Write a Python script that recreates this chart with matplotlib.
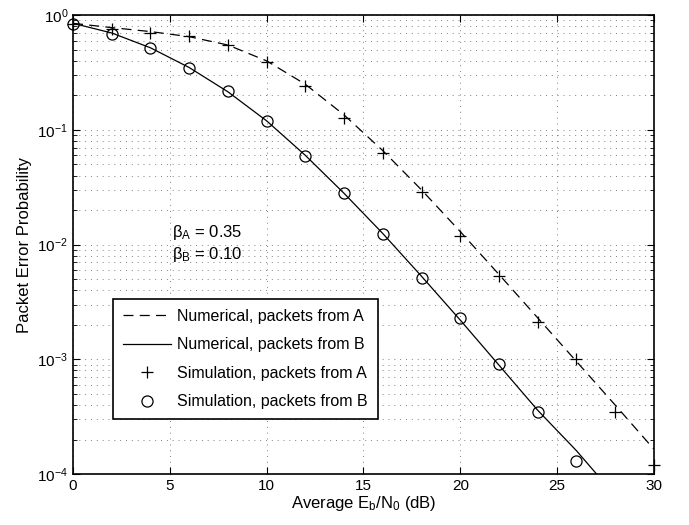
import matplotlib
matplotlib.use("Agg")
import matplotlib.pyplot as plt
import numpy as np

plt.rcParams['font.family'] = ['Liberation Sans', 'DejaVu Sans']
plt.rcParams['mathtext.fontset'] = 'custom'
plt.rcParams['mathtext.rm'] = 'Liberation Sans'
plt.rcParams['mathtext.it'] = 'Liberation Sans'

snr_num = [0, 2, 4, 6, 8, 10, 12, 14, 16, 18, 20, 22, 24, 26, 28, 30]
num_A = [0.85, 0.78, 0.72, 0.65, 0.55, 0.40, 0.25, 0.135, 0.066, 0.030, 0.013,
         0.0055, 0.0023, 0.00096, 0.0004, 0.000165]
num_B = [0.85, 0.70, 0.52, 0.35, 0.215, 0.12, 0.060, 0.028, 0.0125, 0.0053,
         0.0022, 0.00089, 0.00036, 0.00016, 0.000065, 0.000026]

snr_simA = [0, 2, 4, 6, 8, 10, 12, 14, 16, 18, 20, 22, 24, 26, 28, 30]
sim_A = [0.835, 0.755, 0.70, 0.656, 0.548, 0.39, 0.24, 0.126, 0.063, 0.029,
         0.012, 0.0053, 0.0021, 0.001, 0.00035, 0.00012]
snr_simB = [0, 2, 4, 6, 8, 10, 12, 14, 16, 18, 20, 22, 24, 26]
sim_B = [0.835, 0.68, 0.515, 0.345, 0.218, 0.119, 0.059, 0.028, 0.0123,
         0.0051, 0.0023, 0.00091, 0.00035, 0.00013]

fig = plt.figure(figsize=(6.89, 5.25), dpi=100)
ax = fig.add_axes([0.106, 0.097, 0.843, 0.874])

ax.plot(snr_num, num_A, color='k', ls='--', lw=0.9, dashes=(8, 5), label='Numerical, packets from A')
ax.plot(snr_num, num_B, 'k-', lw=0.9, label='Numerical, packets from B')
ax.plot(snr_simA, sim_A, 'k+', ms=9, mew=0.9, ls='none', clip_on=False,
        label='Simulation, packets from A')
ax.plot(snr_simB, sim_B, 'ko', ms=8, mfc='none', mew=0.9, ls='none', clip_on=False,
        label='Simulation, packets from B')

ax.set_yscale('log')
ax.set_xlim(0, 30)
ax.set_ylim(1e-4, 1)
ax.set_xticks([0, 5, 10, 15, 20, 25, 30])
ax.tick_params(which='both', direction='in', top=True, right=True, labelsize=11)
ax.tick_params(which='major', length=5)
ax.tick_params(which='minor', length=3)
grid_style = dict(ls=(0, (1, 5)), lw=0.7, color='0.5')
ax.grid(True, which='major', axis='x', **grid_style)
ax.grid(True, which='both', axis='y', **grid_style)
for s in ax.spines.values():
    s.set_linewidth(1.2)

ax.set_xlabel(r'Average E$_\mathregular{b}$/N$_\mathregular{0}$ (dB)', fontsize=12, labelpad=1)
ax.set_ylabel('Packet Error Probability', fontsize=12, labelpad=4)

ax.text(5.1, 0.527, r'$\mathregular{\beta_A}$ = 0.35', transform=ax.get_xaxis_transform(),
        fontsize=12, va='center')
ax.text(5.1, 0.479, r'$\mathregular{\beta_B}$ = 0.10', transform=ax.get_xaxis_transform(),
        fontsize=12, va='center')

leg = ax.legend(loc='lower left', bbox_to_anchor=(0.069, 0.12, 0.456, 0.2525), mode='expand',
                fontsize=11.5, frameon=True, fancybox=False, edgecolor='k', borderaxespad=0,
                handlelength=3, handletextpad=0.4, labelspacing=0.85, borderpad=0.6)
leg.get_frame().set_linewidth(1.2)
leg.get_frame().set_alpha(1)

fig.savefig('out.png', dpi=100)
